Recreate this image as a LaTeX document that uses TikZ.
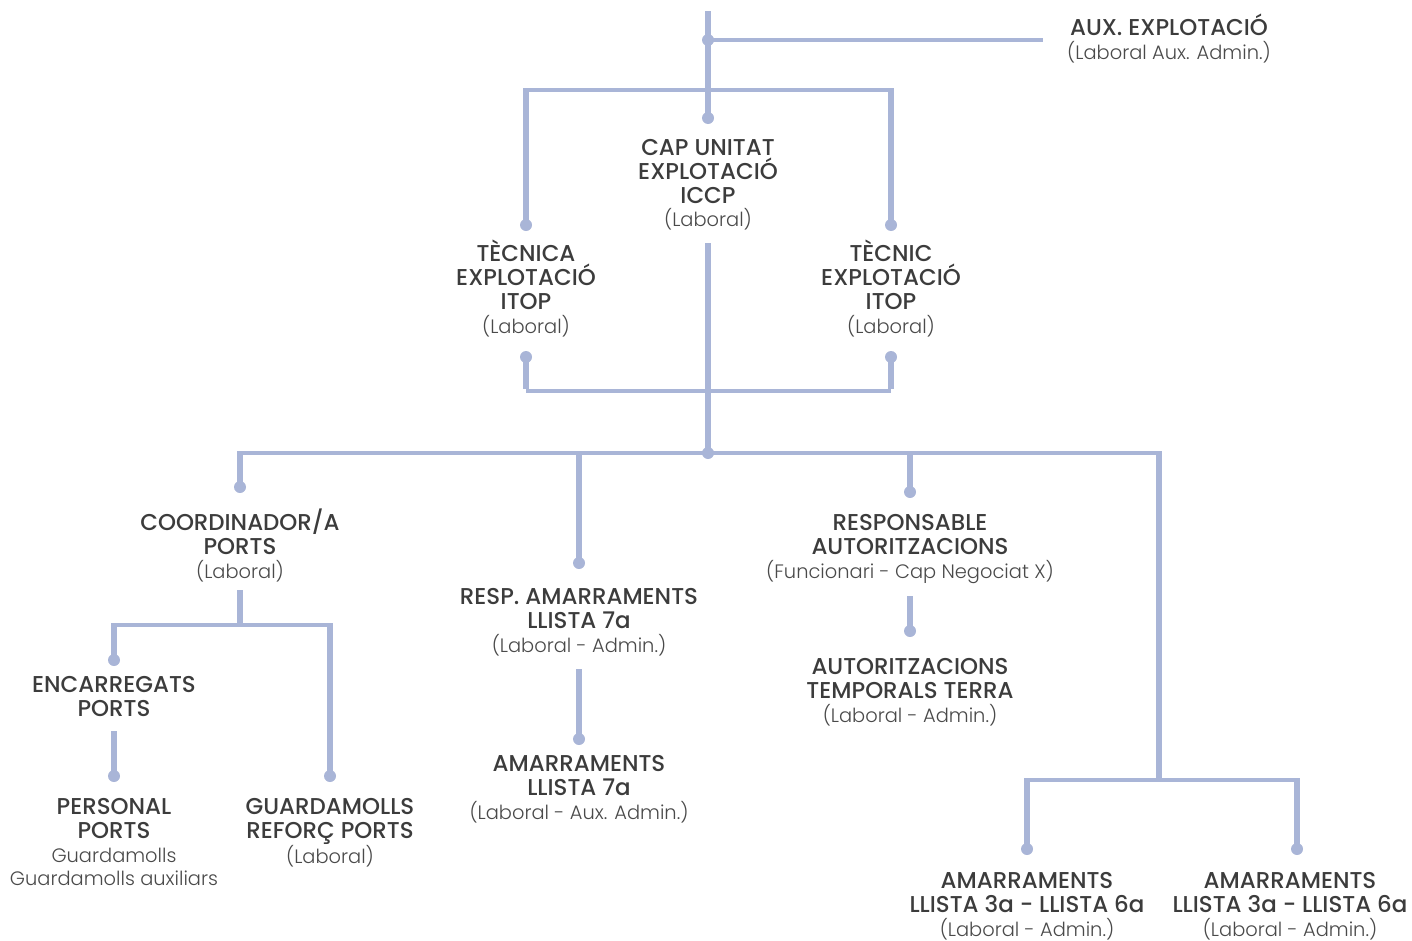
\documentclass[tikz,border=0pt]{standalone}
\usepackage{fontspec}
\IfFontExistsTF{Poppins Medium}{\newfontfamily\titlefam{Poppins Medium}}{\newfontfamily\titlefam{Poppins}}
\IfFontExistsTF{Poppins Light}{\newfontfamily\subfam{Poppins Light}}{\newfontfamily\subfam{Poppins}}
\definecolor{linec}{HTML}{A9B5D7}
\definecolor{txtc}{HTML}{3C3C3C}
\definecolor{subc}{HTML}{4A4A4A}
\newcommand\subtxt[1]{{\subfam\fontsize{19.5}{24}\selectfont\color{subc}#1}}
\newcommand\topstrut{\rule{0pt}{20bp}}
\tikzset{
  unit/.style={anchor=north, align=center, inner sep=0pt, text=txtc,
    font=\titlefam\fontsize{23}{24}\selectfont},
  vl/.style={draw=linec, line width=5.5bp},
  hl/.style={draw=linec, line width=3.2bp},
  fromh/.style={shorten <=-1.6bp},
}
\newcommand\dotat[1]{\fill[linec] (#1) circle (6bp);}
\begin{document}
\begin{tikzpicture}[x=1bp,y=-1bp]
\useasboundingbox (0,0) rectangle (1412,940);
% coordinates
\coordinate (top) at (708,11);
\coordinate (auxj) at (708,40);
\coordinate (auxend) at (1043,40);
\coordinate (capdot) at (708,118);
\coordinate (brL) at (526,90);
\coordinate (brR) at (891,90);
\coordinate (tecLdot) at (526,225);
\coordinate (tecRdot) at (891,225);
\coordinate (capbot) at (708,243);
\coordinate (mainj) at (708,453);
\coordinate (tecLb) at (526,357);
\coordinate (tecRb) at (891,357);
\coordinate (lbL) at (526,391);
\coordinate (lbR) at (891,391);
\coordinate (hL) at (240,453);
\coordinate (hR) at (1159,453);
\coordinate (hResp) at (579,453);
\coordinate (hAut) at (910,453);
\coordinate (coordDot) at (240,487);
\coordinate (respDot) at (579,563);
\coordinate (autDot) at (910,492);
\coordinate (rj) at (1159,780);
\coordinate (coordBot) at (240,590);
\coordinate (cj) at (240,625);
\coordinate (cL) at (114,625);
\coordinate (cR) at (330,625);
\coordinate (encDot) at (114,660);
\coordinate (guaDot) at (330,776);
\coordinate (encBot) at (114,731);
\coordinate (persDot) at (114,776);
\coordinate (respBot) at (579,669);
\coordinate (amDot) at (579,739);
\coordinate (autBot) at (910,596);
\coordinate (tempDot) at (910,631);
\coordinate (rL) at (1027,780);
\coordinate (rR) at (1297,780);
\coordinate (am3Dot) at (1027,849);
\coordinate (am6Dot) at (1297,849);

% connectors
\draw[vl] (top) -- (capdot);
\draw[hl] (auxj) -- (auxend);
\draw[hl] (brL) -- (brR);
\draw[vl,fromh] (brL) -- (tecLdot);
\draw[vl,fromh] (brR) -- (tecRdot);
\draw[vl] (capbot) -- (mainj);
\draw[vl] (tecLb) -- ([yshift=1.6bp]lbL);
\draw[vl] (tecRb) -- ([yshift=1.6bp]lbR);
\draw[hl] (lbL) -- (lbR);
\draw[hl] (hL) -- (hR);
\draw[vl,fromh] (hL) -- (coordDot);
\draw[vl] (hResp) -- (respDot);
\draw[vl] (hAut) -- (autDot);
\draw[vl,fromh] (hR) -- ([yshift=1.6bp]rj);
\draw[vl] (coordBot) -- (cj);
\draw[hl] (cL) -- (cR);
\draw[vl,fromh] (cL) -- (encDot);
\draw[vl,fromh] (cR) -- (guaDot);
\draw[vl] (encBot) -- (persDot);
\draw[vl] (respBot) -- (amDot);
\draw[vl] (autBot) -- (tempDot);
\draw[hl] (rL) -- (rR);
\draw[vl,fromh] (rL) -- (am3Dot);
\draw[vl,fromh] (rR) -- (am6Dot);

% dots
\dotat{auxj}\dotat{capdot}\dotat{tecLdot}\dotat{tecRdot}\dotat{tecLb}\dotat{tecRb}
\dotat{mainj}\dotat{coordDot}\dotat{respDot}\dotat{autDot}\dotat{encDot}\dotat{guaDot}
\dotat{persDot}\dotat{amDot}\dotat{tempDot}\dotat{am3Dot}\dotat{am6Dot}

% text units
\node[unit] (aux) at (1169,14) {\topstrut AUX. EXPLOTACIÓ\\\subtxt{(Laboral Aux. Admin.)}};
\node[unit] (cap) at (708,135) {\topstrut CAP UNITAT\\EXPLOTACIÓ\\ICCP\\\subtxt{(Laboral)}};
\node[unit] (tecL) at (526,240) {\topstrut TÈCNICA\\EXPLOTACIÓ\\ITOP\\\subtxt{(Laboral)}};
\node[unit] (tecR) at (891,240) {\topstrut TÈCNIC\\EXPLOTACIÓ\\ITOP\\\subtxt{(Laboral)}};
\node[unit] (coord) at (240,509) {\topstrut COORDINADOR/A\\PORTS\\\subtxt{(Laboral)}};
\node[unit] (enc) at (114,672) {\topstrut ENCARREGATS\\PORTS};
\node[unit] (pers) at (114,794) {\topstrut PERSONAL\\PORTS\\\subtxt{Guardamolls}\\\subtxt{Guardamolls auxiliars}};
\node[unit] (gua) at (330,794) {\topstrut GUARDAMOLLS\\REFORÇ PORTS\\\subtxt{(Laboral)}};
\node[unit] (resp) at (579,584) {\topstrut RESP. AMARRAMENTS\\LLISTA 7a\\\subtxt{(Laboral - Admin.)}};
\node[unit] (am7) at (579,751) {\topstrut AMARRAMENTS\\LLISTA 7a\\\subtxt{(Laboral - Aux. Admin.)}};
\node[unit] (respA) at (910,510) {\topstrut RESPONSABLE\\AUTORITZACIONS\\\subtxt{(Funcionari - Cap Negociat X)}};
\node[unit] (temp) at (910,654) {\topstrut AUTORITZACIONS\\TEMPORALS TERRA\\\subtxt{(Laboral - Admin.)}};
\node[unit] (am3) at (1027,868) {\topstrut AMARRAMENTS\\LLISTA 3a - LLISTA 6a\\\subtxt{(Laboral - Admin.)}};
\node[unit] (am6) at (1290,868) {\topstrut AMARRAMENTS\\LLISTA 3a - LLISTA 6a\\\subtxt{(Laboral - Admin.)}};
\end{tikzpicture}
\end{document}
